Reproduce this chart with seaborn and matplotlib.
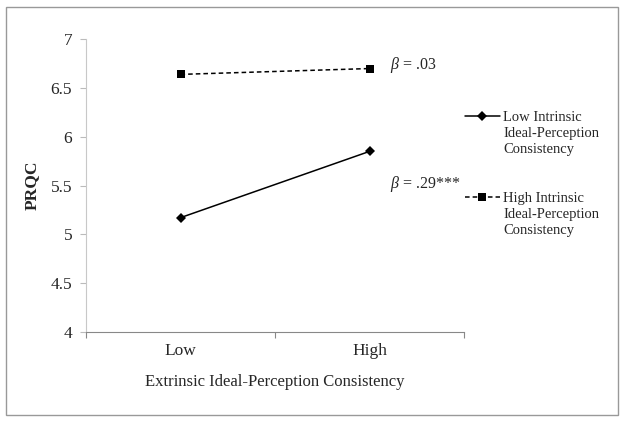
import matplotlib
matplotlib.use("Agg")
import matplotlib.pyplot as plt
import seaborn as sns
import pandas as pd
from matplotlib.patches import Rectangle

# ---- data ----
x_categories = ["Low", "High"]
series_names = ["Low Intrinsic\nIdeal-Perception\nConsistency",
                "High Intrinsic\nIdeal-Perception\nConsistency"]
low_intrinsic = [5.17, 5.85]
high_intrinsic = [6.64, 6.70]
y_ticks = [4, 4.5, 5, 5.5, 6, 6.5, 7]
y_tick_labels = ["4", "4.5", "5", "5.5", "6", "6.5", "7"]
annotations = ["$\\beta$ = .03", "$\\beta$ = .29***"]
annotation_y = [6.74, 5.52]

df = pd.DataFrame({
    "x": x_categories * 2,
    "PRQC": low_intrinsic + high_intrinsic,
    "group": [series_names[0]] * 2 + [series_names[1]] * 2,
})

sns.set_style("white")
plt.rcParams["font.family"] = ["Liberation Serif", "DejaVu Serif"]
plt.rcParams["mathtext.fontset"] = "custom"
plt.rcParams["mathtext.rm"] = "Liberation Serif"
plt.rcParams["mathtext.it"] = "Liberation Serif:italic"

fig = plt.figure(figsize=(6.25, 4.24), dpi=100)
ax = fig.add_axes([0.1376, 0.2177, 0.7424 - 0.1376, 0.9073 - 0.2177])

sns.lineplot(data=df, x="x", y="PRQC", hue="group", style="group",
             palette=["black", "black"],
             markers={series_names[0]: "D", series_names[1]: "s"},
             dashes={series_names[0]: "", series_names[1]: (3, 2)},
             markersize=6, linewidth=1.1, markeredgewidth=0,
             ax=ax, legend=True, sort=False)

for line in ax.get_lines():
    if line.get_marker() == "D":
        line.set_markersize(5)

ax.set_xlim(-0.5, 1.5)
ax.set_ylim(4, 7)
ax.set_yticks(y_ticks)
ax.set_yticklabels(y_tick_labels)
ax.set_xticks([-0.5, 0.5, 1.5])
ax.set_xticklabels([])
ax.set_xticks([0, 1], minor=True)
ax.set_xticklabels(x_categories, minor=True)
ax.tick_params(axis="x", which="minor", length=0, labelsize=12.5, pad=8)
ax.tick_params(axis="x", which="major", length=4, color="#888888", direction="out", bottom=True)
ax.tick_params(axis="y", length=4, color="#bbbbbb", direction="out", left=True, labelsize=12.5, pad=6)

for s in ["top", "right"]:
    ax.spines[s].set_visible(False)
ax.spines["left"].set_color("#c8c8c8")
ax.spines["left"].set_linewidth(0.8)
ax.spines["bottom"].set_color("#888888")
ax.spines["bottom"].set_linewidth(0.8)

ax.set_xlabel("Extrinsic Ideal-Perception Consistency", fontsize=12, labelpad=11)
ax.set_ylabel("PRQC", fontsize=12.5, fontweight="bold", labelpad=8)

for txt, yv in zip(annotations, annotation_y):
    ax.text(1.11, yv, txt, fontsize=11.5, va="center", ha="left")

handles, labels = ax.get_legend_handles_labels()
ax.get_legend().remove()
leg = fig.legend(handles, labels, loc="upper left",
                 bbox_to_anchor=(459 / 625, 1 - 105 / 424),
                 frameon=False, fontsize=10.5, handlelength=2.4, handletextpad=0.25,
                 labelspacing=2.5, borderaxespad=0)
for t in leg.get_texts():
    t.set_linespacing(1.3)
for col in leg._legend_handle_box.get_children():
    for row in col.get_children():
        row.align = "top"

fig.patches.append(Rectangle((6 / 625, 1 - 415 / 424), 612 / 625, 408 / 424,
                             transform=fig.transFigure, fill=False,
                             edgecolor="#999999", linewidth=1))

fig.savefig("out.png", dpi=100)
